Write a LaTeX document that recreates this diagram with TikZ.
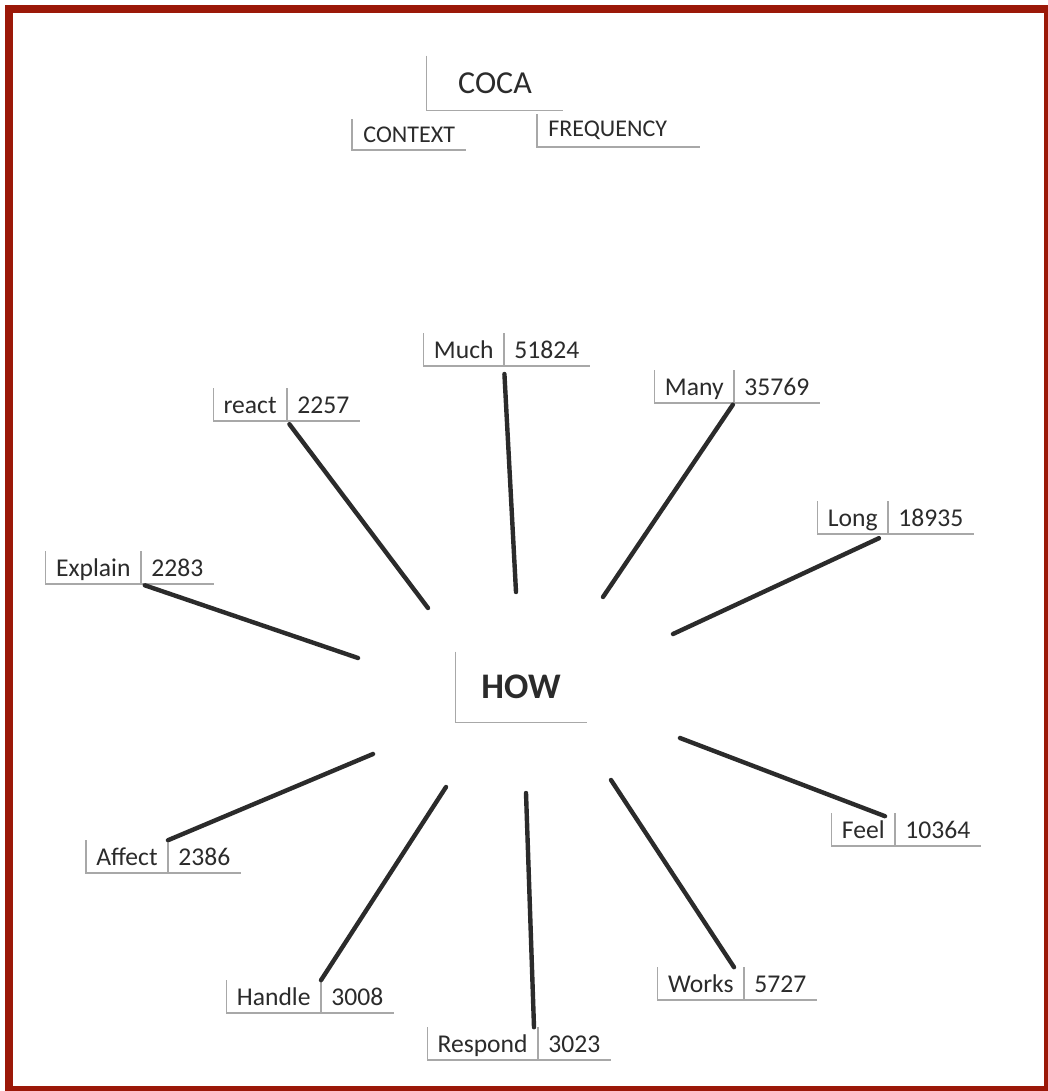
\documentclass[tikz,border=0pt]{standalone}
\usepackage{fontspec}
\setmainfont{Carlito}
\usetikzlibrary{positioning}
\definecolor{frame}{RGB}{155,24,8}
\definecolor{ink}{gray}{0.17}
\definecolor{paper}{gray}{0.66}

\begin{document}
\begin{tikzpicture}[x=0.5pt,y=-0.5pt,
word/.style={anchor=south east,inner xsep=5pt,inner ysep=3.5pt,text height=9pt,
text depth=0pt,text=ink,font=\fontsize{12.8}{15}\selectfont},
count/.style={word,anchor=south west},
head/.style={text=ink,font=\fontsize{12}{14}\selectfont,inner xsep=5.5pt},
edge/.style={paper,line width=0.6pt},
spoke/.style={ink,line width=2.2pt,line cap=round}]
\useasboundingbox (0,0) rectangle (1048,1091);
\fill[white] (0,0) rectangle (1048,1091);
\fill[frame] (5,5) rectangle (1048,1091);
\fill[white] (13,13) rectangle (1044,1086);
% title scraps
\node[text=ink,font=\fontsize{16}{19}\selectfont,minimum width=68pt,minimum height=27pt] (coca) at (495,83) {COCA};
\node[head,anchor=south west,minimum width=56.5pt,minimum height=15pt] (context) at (352,150) {CONTEXT};
\node[head,anchor=south west,minimum height=15pt] (freq) at (537,147) {FREQUENCY};
\draw[edge] (coca.north west) |- (coca.south east);
\draw[edge] (context.north west) |- (context.south east);
\draw[edge] (freq.north west) -- (freq.south west) -- ++(81.5pt,0);
% centre
\node[text=ink,font=\fontsize{18}{22}\bfseries,minimum width=65.5pt,minimum height=35pt] (how) at (521,687) {HOW};
\draw[edge] (how.north west) |- (how.south east);
% word / frequency pairs
\node[word] (much) at (504,366) {Much}; \node[count] (muchn) at (much.south east) {51824};
\node[word] (many) at (734,403) {Many}; \node[count] (manyn) at (many.south east) {35769};
\node[word] (react) at (287,421) {react}; \node[count] (reactn) at (react.south east) {2257};
\node[word] (long) at (888,534) {Long}; \node[count] (longn) at (long.south east) {18935};
\node[word] (explain) at (141,584) {Explain}; \node[count] (explainn) at (explain.south east) {2283};
\node[word] (feel) at (895,846) {Feel}; \node[count] (feeln) at (feel.south east) {10364};
\node[word] (affect) at (168,873) {Affect}; \node[count] (affectn) at (affect.south east) {2386};
\node[word] (handle) at (321,1013) {Handle}; \node[count] (handlen) at (handle.south east) {3008};
\node[word] (works) at (744,1000) {Works}; \node[count] (worksn) at (works.south east) {5727};
\node[word] (respond) at (538,1060) {Respond}; \node[count] (respondn) at (respond.south east) {3023};
\foreach \w in {much,many,react,long,explain,feel,affect,handle,works,respond}{
\draw[edge] (\w.north west) |- (\w n.south east);
\draw[edge] (\w n.north west) -- (\w n.south west);}
% loose ends of the spokes
\coordinate (c-much) at (516,592); \coordinate (c-many) at (603,597);
\coordinate (c-react) at (428,608); \coordinate (c-long) at (673,634);
\coordinate (c-explain) at (358,658); \coordinate (c-feel) at (680,738);
\coordinate (c-affect) at (373,754); \coordinate (c-handle) at (446,787);
\coordinate (c-respond) at (526,793); \coordinate (c-works) at (611,780);
\draw[spoke,shorten <=4pt] (much.south east)--(c-much); \draw[spoke,shorten <=1pt] (many.south east)--(c-many);
\draw[spoke,shorten <=2pt] (react.south east)--(c-react); \draw[spoke,shorten <=5pt] (long.south east)--(c-long);
\draw[spoke,shorten <=2pt] (explain.south east)--(c-explain);
\draw[spoke] ([xshift=-5pt,yshift=-1.5pt]feel.north east)--(c-feel); \draw[spoke] (affect.north east)--(c-affect);
\draw[spoke] (handle.north east)--(c-handle); \draw[spoke] ([xshift=-2pt]respond.north east)--(c-respond);
\draw[spoke] ([xshift=-5pt]works.north east)--(c-works);
\end{tikzpicture}
\end{document}
